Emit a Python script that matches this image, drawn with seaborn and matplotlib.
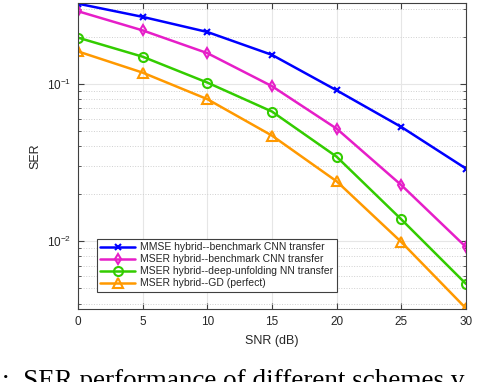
import numpy as np
import matplotlib
matplotlib.use("Agg")
import matplotlib.pyplot as plt
import seaborn as sns
from matplotlib.ticker import LogLocator, NullFormatter

# SNR points (dB)
snr = [0, 5, 10, 15, 20, 25, 30]

# SER values
ser_mmse_cnn = [0.324, 0.267, 0.214, 0.153, 0.091, 0.0532, 0.0289]
ser_mser_cnn = [0.290, 0.219, 0.157, 0.0967, 0.0519, 0.0227, 0.00916]
ser_mser_unfold = [0.197, 0.149, 0.102, 0.0667, 0.0344, 0.01374, 0.00534]
ser_mser_gd = [0.161, 0.118, 0.080, 0.0469, 0.024, 0.00986, 0.00373]

labels = [
    "MMSE hybrid--benchmark CNN transfer",
    "MSER hybrid--benchmark CNN transfer",
    "MSER hybrid--deep-unfolding NN transfer",
    "MSER hybrid--GD (perfect)",
]
colors = ["#0000ff", "#e61ec8", "#33cc00", "#ff9900"]
markers = ["x", "d", "o", "^"]
msizes = [4, 5.5, 6.5, 7]

sns.set_style("ticks")
plt.rcParams["font.family"] = ["Liberation Sans", "DejaVu Sans"]

fig = plt.figure(figsize=(4.84, 3.82), dpi=100)
ax = fig.add_axes([0.161, 0.191, 0.802, 0.800])

series = [ser_mmse_cnn, ser_mser_cnn, ser_mser_unfold, ser_mser_gd]
for vals, lab, c, m, ms in zip(series, labels, colors, markers, msizes):
    sns.lineplot(x=snr, y=vals, ax=ax, color=c, marker=m, markersize=ms,
                 markerfacecolor="none", markeredgecolor=c, markeredgewidth=1.5,
                 linewidth=1.8, label=lab)

ax.set_yscale("log")
ax.set_xlim(0, 30)
ax.set_ylim(0.0037, 0.325)
ax.set_xticks(snr)
ax.yaxis.set_major_locator(LogLocator(base=10))
ax.yaxis.set_minor_locator(LogLocator(base=10, subs=np.arange(2, 10)))
ax.yaxis.set_minor_formatter(NullFormatter())

ax.grid(True, which="major", color="#e6e6e6", linewidth=0.8, linestyle="-")
ax.grid(True, which="minor", axis="y", color="#d0d0d0", linewidth=0.7, linestyle=":")
ax.set_axisbelow(True)

for s in ax.spines.values():
    s.set_visible(True)
    s.set_color("#404040")
    s.set_linewidth(0.8)
ax.tick_params(which="both", direction="in", top=True, right=True, colors="#404040",
               labelcolor="#262626", labelsize=8.5, pad=5)
ax.tick_params(which="major", length=4)
ax.tick_params(which="minor", length=2)

ax.set_xlabel("SNR (dB)", fontsize=9, color="#262626", labelpad=5)
ax.set_ylabel("SER", fontsize=9, color="#262626", labelpad=4)

leg = ax.legend(loc="lower left", bbox_to_anchor=(0.035, 0.04), fontsize=7.5,
                frameon=True, fancybox=False, edgecolor="#404040", framealpha=1,
                handlelength=3.4, borderpad=0.3, labelspacing=0.2, handletextpad=0.5)
leg.get_frame().set_linewidth(0.8)

fig.text(0.005, -0.032, ":  SER performance of different schemes v", fontsize=19.5,
         family=["Liberation Serif", "DejaVu Serif"], ha="left", va="bottom", color="black")

fig.savefig("out.png", dpi=100)
